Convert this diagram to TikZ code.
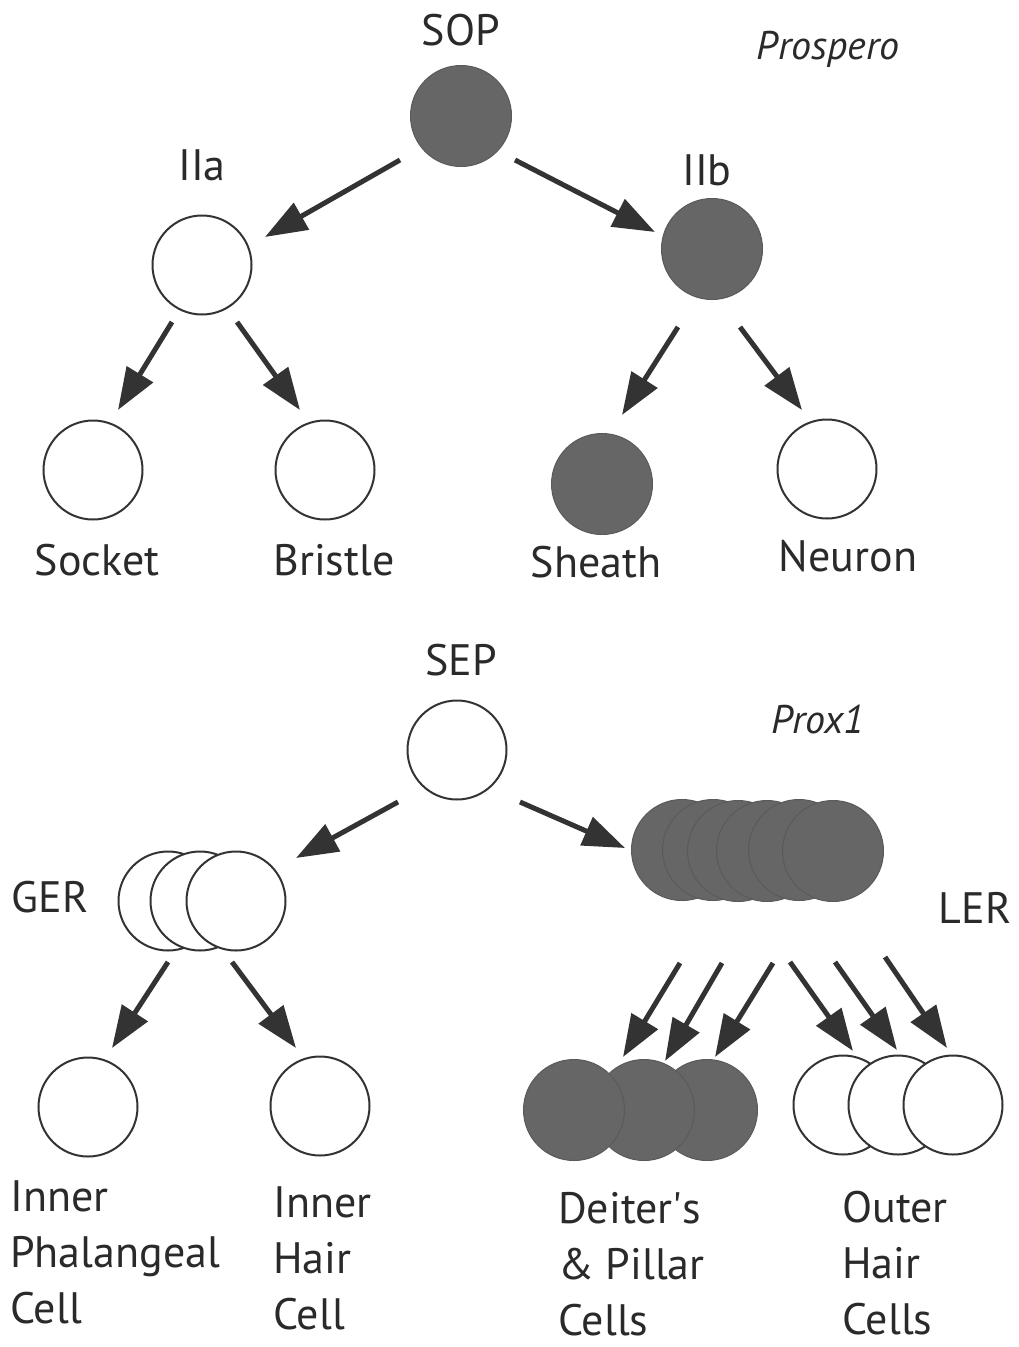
\documentclass[tikz,border=0pt]{standalone}
\usepackage{fontspec}
\setmainfont{PT Sans}
\usetikzlibrary{arrows.meta,calc}
\definecolor{cellgray}{HTML}{666666}
\definecolor{celledge}{HTML}{5A5A5A}
\definecolor{inkdark}{HTML}{333333}
\definecolor{textc}{HTML}{2A2A2A}
\begin{document}
\begin{tikzpicture}[x=1pt,y=-1pt,
 fullc/.style={circle,minimum size=101pt,inner sep=0pt,fill=cellgray,draw=celledge,line width=1pt},
 emptyc/.style={circle,minimum size=99pt,inner sep=0pt,fill=white,draw=inkdark,line width=2pt},
 arr/.style={draw=inkdark,line width=5pt,-{Triangle[length=42pt,width=30pt]}},
 lab/.style={font=\fontsize{44}{56}\selectfont,text=textc,inner sep=0pt,text height=31pt,text depth=0pt},
 ital/.style={lab,font=\fontsize{40}{50}\selectfont\itshape},
 multi/.style={font=\fontsize{44}{56}\selectfont,text=textc,align=left,anchor=west,inner sep=0pt}]
\useasboundingbox[fill=white] (0,0) rectangle (1018,1347);

% ---------- top tree ----------
\node[lab] (soplab) at (461,30) {SOP};
\node[ital] (prospero) at (828,44) {Prospero};
\node[fullc] (sop) at (461,116) {};
\node[lab] (iialab) at (202,165) {IIa};
\node[emptyc] (iia) at (202,265) {};
\node[lab] (iiblab) at (707,170) {IIb};
\node[fullc] (iib) at (712,249) {};
\node[emptyc] (socket) at (93,470) {};
\node[emptyc] (bristle) at (325,470) {};
\node[fullc] (sheath) at (602,484) {};
\node[emptyc] (neuron) at (827,469) {};
\node[lab] (socketlab) at (97,560) {Socket};
\node[lab] (bristlelab) at (334,560) {Bristle};
\node[lab] (sheathlab) at (596,562) {Sheath};
\node[lab] (neuronlab) at (848,556) {Neuron};

\draw[arr] ($(sop)+(-61,44)$) -- ($(iia)+(63,-28)$);
\draw[arr] ($(sop)+(54,44)$) -- ($(iib)+(-57,-17)$);
\draw[arr] ($(iia)+(-30,57)$) -- ($(socket)+(25,-60)$);
\draw[arr] ($(iia)+(35,57)$) -- ($(bristle)+(-25,-60)$);
\draw[arr] ($(iib)+(-34,78)$) -- ($(sheath)+(20,-69)$);
\draw[arr] ($(iib)+(28,78)$) -- ($(neuron)+(-25,-59)$);

% ---------- bottom tree ----------
\node[lab] (seplab) at (461,660) {SEP};
\node[ital] (prox) at (818,718) {Prox1};
\node[emptyc] (sep) at (457,750) {};
\node[lab] (gerlab) at (50,897) {GER};
\node[emptyc] (ger1) at (168,901) {};
\node[emptyc] (ger2) at (200,901) {};
\node[emptyc] (ger3) at (236,901) {};
\node[fullc] (ler1) at (682,850) {};
\node[fullc] (ler2) at (713,850) {};
\node[fullc] (ler3) at (738,851) {};
\node[fullc] (ler4) at (767,851) {};
\node[fullc] (ler5) at (799,850) {};
\node[fullc] (ler6) at (833,851) {};
\node[lab] (lerlab) at (975,908) {LER};

\node[emptyc] (iph) at (88,1107) {};
\node[emptyc] (ihc) at (320,1106) {};
\node[fullc] (dc3) at (707,1110) {};
\node[fullc] (dc2) at (644,1110) {};
\node[fullc] (dc1) at (574,1110) {};
\node[emptyc] (oh1) at (843,1105) {};
\node[emptyc] (oh2) at (898,1105) {};
\node[emptyc] (oh3) at (953,1105) {};

\draw[arr] ($(sep)+(-59,52)$) -- ($(ger3)+(60,-43)$);
\draw[arr] ($(sep)+(63,52)$) -- ($(ler1)+(-57,-2)$);
\draw[arr] ($(ger2)+(-32,61)$) -- ($(iph)+(24,-59)$);
\draw[arr] ($(ger2)+(32,61)$) -- ($(ihc)+(-24,-58)$);

\draw[arr] ($(ler1)+(-2,113)$) -- ($(dc1)+(49,-53)$);
\draw[arr] ($(ler2)+(9,113)$) -- ($(dc2)+(21,-49)$);
\draw[arr] ($(ler4)+(6,112)$) -- ($(dc3)+(8,-53)$);
\draw[arr] ($(ler4)+(23,111)$) -- ($(oh1)+(10,-54)$);
\draw[arr] ($(ler5)+(36,112)$) -- ($(oh2)+(-1,-55)$);
\draw[arr] ($(ler6)+(52,106)$) -- ($(oh3)+(-6,-57)$);

\node[multi] (iphlab) at (10,1252) {Inner\\Phalangeal\\Cell};
\node[multi] (ihclab) at (273,1258) {Inner\\Hair\\Cell};
\node[multi] (dclab) at (558,1264) {Deiter\textquotesingle s\\\& Pillar\\Cells};
\node[multi] (ohlab) at (842,1263) {Outer\\Hair\\Cells};
\end{tikzpicture}
\end{document}
